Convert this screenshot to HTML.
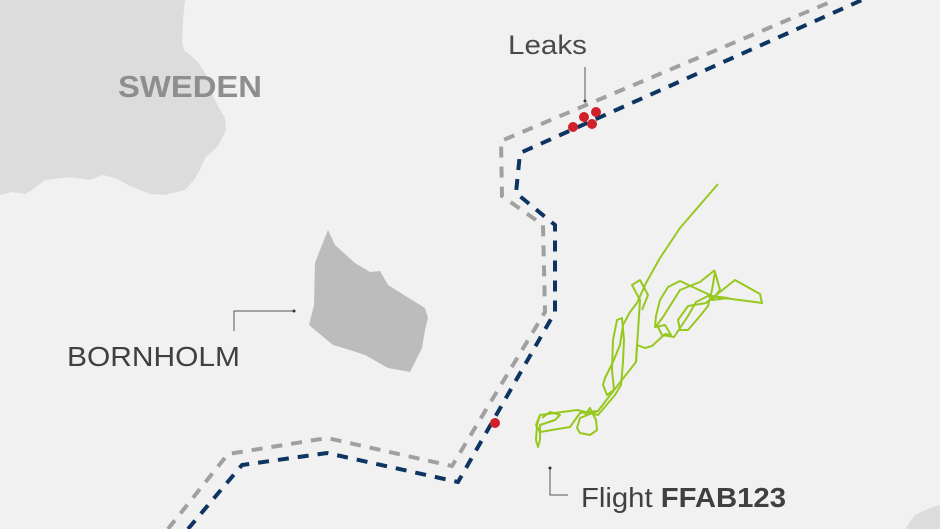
<!DOCTYPE html>
<html><head><meta charset="utf-8"><style>
html,body{margin:0;padding:0;background:#f1f1f1;}
svg{display:block;}
text{font-family:"Liberation Sans","DejaVu Sans",sans-serif;}
</style></head><body>
<svg width="940" height="529" viewBox="0 0 940 529" xmlns="http://www.w3.org/2000/svg">
<rect width="940" height="529" fill="#f1f1f1"/>
<path d="M0,0 L185,0 L183,20 L182,42 L184,50 L198,62 L208,78 L213,96 L218,106 L225,118 L226,130 L218,146 L205,158 L200,170 L194,180 L185,190 L165,195 L150,194 L130,186 L115,178 L103,175 L90,180 L70,177 L45,180 L32,190 L25,194 L12,192 L0,195 Z" fill="#dcdcdc"/>
<path d="M328,230 L335,245 L355,263 L370,272 L380,271 L388,285 L412,300 L425,308 L428,318 L425,330 L422,348 L410,372 L388,368 L365,355 L350,350 L333,345 L309,325 L314,305 L315,263 L320,250 Z" fill="#bcbcbc"/>
<path d="M905,529 L915,515 L930,508 L940,505 L940,529 Z" fill="#dcdcdc"/>
<polyline points="168,529 228,454 327,438 452,466 545,312 543,225 502,196 501,141 835,0" fill="none" stroke="#a0a0a0" stroke-width="4" stroke-dasharray="11,9"/>
<polyline points="188,529 242,465 327,453 458,482 555,312 555,225 516,193 520,153 862,0" fill="none" stroke="#0d3561" stroke-width="4" stroke-dasharray="11,9"/>
<g fill="#d0202a"><circle cx="573" cy="127" r="5"/><circle cx="584" cy="117" r="5"/><circle cx="596" cy="112" r="5"/><circle cx="592" cy="124" r="5"/><circle cx="495" cy="423" r="5"/></g>
<g fill="none" stroke="#97c81f" stroke-width="2" stroke-linejoin="round">
<polyline points="718,184 680,228 660,258 646,283 637,303 630,312 623,325 620,345 613,362 605,378 603,385 607,395 614,390 612,370 613,340 617,320 622,318 624,340 623,362 621,385 615,395 598,415 577,410 540,415 536,425 540,432 570,427 580,413 598,411 618,385 636,362 637,345 645,348 652,346 665,334 671,335 665,325 655,327 656,316 660,300 668,287 680,281 712,296 728,298 712,300 720,290 715,272 712,290 708,306 700,316 688,330 680,330 678,320 688,306 706,303 735,280 760,294 762,303 755,302 708,296 696,302 688,316 674,337 662,335 657,325 663,317 680,290 700,282 715,270"/>
<polyline points="598,411 580,418 577,428 580,433 590,435 597,430 596,420 590,408 585,415"/>
<polyline points="540,415 537,425 536,440 538,447 540,440 540,425 555,420 560,415 550,412 542,418"/>
<polyline points="636,362 640,300 632,285 640,280 648,295 642,310"/>
</g>
<text x="508" y="54" font-size="27" fill="#4a4a4a" textLength="79" lengthAdjust="spacingAndGlyphs">Leaks</text>
<line x1="585" y1="67" x2="585" y2="100" stroke="#555" stroke-width="1"/>
<circle cx="585" cy="101" r="1.5" fill="#333"/>
<text x="118" y="97" font-size="31" font-weight="bold" fill="#8e8e8e" textLength="144" lengthAdjust="spacingAndGlyphs">SWEDEN</text>
<text x="67" y="366" font-size="28" fill="#404040" textLength="173" lengthAdjust="spacingAndGlyphs">BORNHOLM</text>
<polyline points="234,331 234,311 294,311" fill="none" stroke="#555" stroke-width="1"/>
<circle cx="294" cy="311" r="1.5" fill="#333"/>
<polyline points="550,468 550,495 568,495" fill="none" stroke="#555" stroke-width="1"/>
<circle cx="550" cy="468" r="1.5" fill="#333"/>
<text x="581" y="507" font-size="28" fill="#404040" textLength="205" lengthAdjust="spacingAndGlyphs">Flight <tspan font-weight="bold">FFAB123</tspan></text>
</svg>
</body></html>
